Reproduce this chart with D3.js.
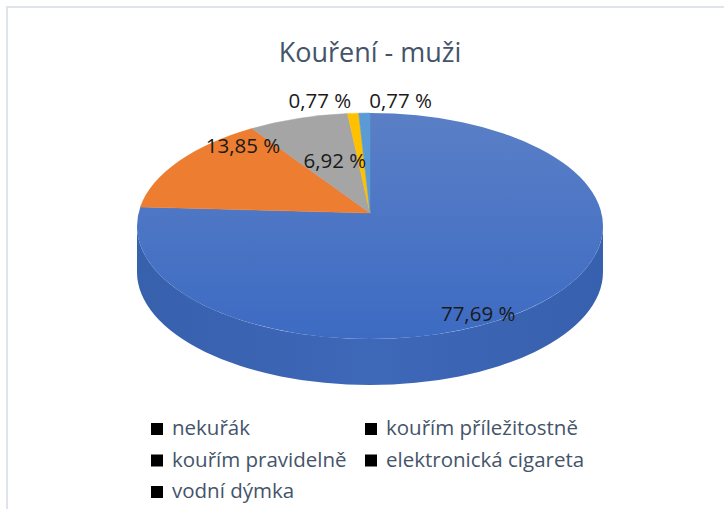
<!DOCTYPE html>
<html>
<head>
<meta charset="utf-8">
<script src="https://cdn.jsdelivr.net/npm/d3@7"></script>
<style>
  body { margin: 0; background: #fff; }
  text { font-family: "Open Sans", "Noto Sans", sans-serif; }
</style>
</head>
<body>
<script>
// chart data
var categories = ['nekuřák', 'kouřím příležitostně', 'kouřím pravidelně', 'elektronická cigareta', 'vodní dýmka'];
var values = [77.69, 13.85, 6.92, 0.77, 0.77];
var labels = ['77,69 %', '13,85 %', '6,92 %', '0,77 %', '0,77 %'];
var colors = ['#4472c4', '#ed7d31', '#a5a5a5', '#ffc000', '#5b9bd5'];
// small nudges for the data labels (px)
var labelNudge = [[18, 40], [-12, -37], [8, 4], [-40, -53], [34, -53]];

var width = 724, height = 509;

var svg = d3.select('body').append('svg')
    .attr('width', width)
    .attr('height', height);

// chart frame
svg.append('rect')
    .attr('x', 7).attr('y', 7)
    .attr('width', 740).attr('height', 520)
    .attr('fill', 'none')
    .attr('stroke', '#dfe3ea')
    .attr('stroke-width', 2);

var defs = svg.append('defs');

var topGrad = defs.append('linearGradient').attr('id', 'topBlue')
    .attr('x1', 0).attr('y1', 0).attr('x2', 0).attr('y2', 1);
topGrad.append('stop').attr('offset', '0%').attr('stop-color', '#5a7fc6');
topGrad.append('stop').attr('offset', '100%').attr('stop-color', '#3d6bc3');

var sideGrad = defs.append('linearGradient').attr('id', 'sideBlue')
    .attr('x1', 0).attr('y1', 0).attr('x2', 1).attr('y2', 0);
sideGrad.append('stop').attr('offset', '0%').attr('stop-color', '#3760ad');
sideGrad.append('stop').attr('offset', '50%').attr('stop-color', '#3e68b8');
sideGrad.append('stop').attr('offset', '100%').attr('stop-color', '#3761ae');

// pie geometry (tilted ellipse)
var cx = 370, cy = 226, rx = 233, ry = 113, depth = 46;
var apex = [370, 213];

function pt(a) {
  return [cx + rx * Math.sin(a), cy - ry * Math.cos(a)];
}

var pie = d3.pie().sort(null).value(function(d) { return d; });
var arcs = pie(values);

// side wall (only the front half is visible)
svg.append('path')
    .attr('d', 'M' + (cx - rx) + ',' + cy +
      ' A' + rx + ',' + ry + ' 0 0 0 ' + (cx + rx) + ',' + cy +
      ' L' + (cx + rx) + ',' + (cy + depth) +
      ' A' + rx + ',' + ry + ' 0 0 1 ' + (cx - rx) + ',' + (cy + depth) + ' Z')
    .attr('fill', 'url(#sideBlue)');

// top face slices
svg.append('g').selectAll('path')
    .data(arcs)
    .enter().append('path')
    .attr('d', function(d) {
      var p0 = pt(d.startAngle), p1 = pt(d.endAngle);
      var large = d.endAngle - d.startAngle > Math.PI ? 1 : 0;
      return 'M' + apex[0] + ',' + apex[1] +
        ' L' + p0[0] + ',' + p0[1] +
        ' A' + rx + ',' + ry + ' 0 ' + large + ' 1 ' + p1[0] + ',' + p1[1] + ' Z';
    })
    .attr('fill', function(d, i) { return i === 0 ? 'url(#topBlue)' : colors[i]; })
    .attr('stroke', function(d, i) { return i === 0 ? 'none' : colors[i]; })
    .attr('stroke-width', 0.5);

// data labels
svg.append('g').selectAll('text')
    .data(arcs)
    .enter().append('text')
    .attr('x', function(d, i) {
      var p = pt((d.startAngle + d.endAngle) / 2);
      return apex[0] + 0.6 * (p[0] - apex[0]) + labelNudge[i][0];
    })
    .attr('y', function(d, i) {
      var p = pt((d.startAngle + d.endAngle) / 2);
      return apex[1] + 0.6 * (p[1] - apex[1]) + labelNudge[i][1];
    })
    .attr('text-anchor', 'middle')
    .attr('dominant-baseline', 'central')
    .attr('font-size', 20.5)
    .attr('fill', '#1a1a1a')
    .text(function(d, i) { return labels[i]; });

// title
svg.append('text')
    .attr('x', 370).attr('y', 62)
    .attr('text-anchor', 'middle')
    .attr('font-size', 27)
    .attr('fill', '#44546a')
    .text('Kouření - muži');

// legend, two columns
var legend = svg.append('g').selectAll('g')
    .data(categories)
    .enter().append('g')
    .attr('transform', function(d, i) {
      return 'translate(' + (151 + (i % 2) * 214) + ',' + (435 + Math.floor(i / 2) * 31.5) + ')';
    });

legend.append('rect')
    .attr('x', 0).attr('y', -12)
    .attr('width', 12).attr('height', 12)
    .attr('fill', '#000');

legend.append('text')
    .attr('x', 21).attr('y', 0)
    .attr('font-size', 20.5)
    .attr('fill', '#44546a')
    .text(function(d) { return d; });
</script>
</body>
</html>
